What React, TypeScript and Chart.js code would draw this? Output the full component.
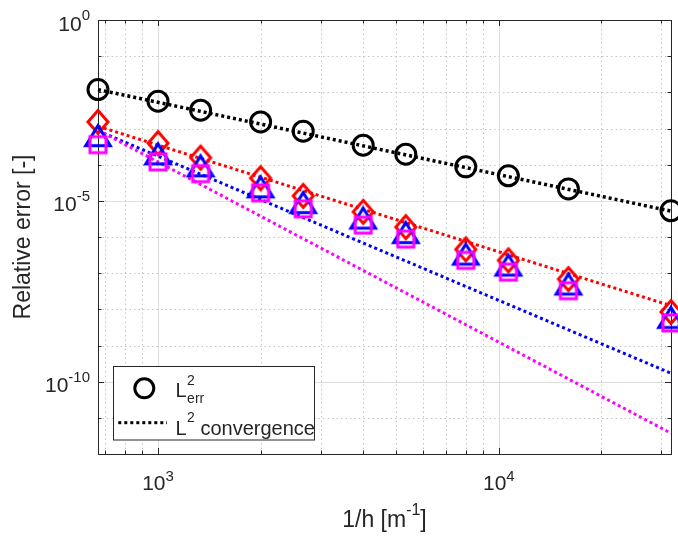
import React, { useEffect, useRef } from 'react';
import { Chart, registerables } from 'chart.js';

Chart.register(...registerables);

// ---------------- data ----------------
const invH = [666.67, 1000, 1333.3, 2000, 2666.7, 4000, 5333.3, 8000, 10666.7, 16000, 32000];
const errL2 = [1.19e-2, 5.68e-3, 3.21e-3, 1.52e-3, 8.41e-4, 3.46e-4, 1.95e-4, 8.69e-5, 4.91e-5, 2.14e-5, 5.3e-6];
const errDiamond = [1.52e-3, 3.93e-4, 1.56e-4, 4.24e-5, 1.37e-5, 4.97e-6, 1.88e-6, 4.54e-7, 2.26e-7, 6.87e-8, 8.42e-9];
const errTriangle = [6.65e-4, 2.08e-4, 9.68e-5, 2.55e-5, 9.38e-6, 3.48e-6, 1.39e-6, 3.52e-7, 1.75e-7, 5.23e-8, 6.25e-9];
const errSquare = [3.57e-4, 1.19e-4, 5.64e-5, 1.66e-5, 6.01e-6, 2.13e-6, 8.75e-7, 2.26e-7, 1.07e-7, 3.27e-8, 4.19e-9];

const convX = [666.67, 32000];
const convL2 = [1.19e-2, 5.2e-6];
const convDiamond = [1.15e-3, 1.26e-8];
const convTriangle = [8.64e-4, 1.71e-10];
const convSquare = [8.98e-4, 3.76e-12];

const xMin = 666.67;
const xMax = 32000;
const yMin = 1e-12;
const yMax = 1;

const xMajorTicks = [1e3, 1e4];
const xTickExponents = ['3', '4'];
const xMinorTicks = [700, 800, 900, 2000, 3000, 4000, 5000, 6000, 7000, 8000, 9000, 20000, 30000];
const yMajorTicks = [1, 1e-5, 1e-10];
const yTickExponents = ['0', '-5', '-10'];
const yMinorTicks = [1e-1, 1e-2, 1e-3, 1e-4, 1e-6, 1e-7, 1e-8, 1e-9, 1e-11];

const xTitle = ['1/h [m', '-1', ']'];
const yTitle = 'Relative error [-]';
const legendErr = ['L', '2', 'err'];
const legendConv = ['L', '2', ' convergence'];

// ---------------- styling helpers ----------------
const FONT = '"Liberation Sans", Arial, Helvetica, sans-serif';
const TEXT = '#262626';

function pts(xs: number[], ys: number[]) {
  return xs.map((x, i) => ({ x, y: ys[i] }));
}

function makeMarker(w: number, h: number, color: string, path: (g: CanvasRenderingContext2D, cx: number, cy: number) => void) {
  const c = document.createElement('canvas');
  c.width = w;
  c.height = h;
  const g = c.getContext('2d')!;
  g.strokeStyle = color;
  g.lineWidth = 3;
  g.lineJoin = 'miter';
  g.miterLimit = 10;
  g.beginPath();
  path(g, w / 2, h / 2);
  g.closePath();
  g.stroke();
  return c;
}

function drawSup(
  ctx: CanvasRenderingContext2D,
  base: string,
  sup: string,
  x: number,
  y: number,
  align: 'left' | 'right' | 'center',
  baseSize: number,
  supSize: number,
  rise: number
) {
  ctx.font = `${baseSize}px ${FONT}`;
  const wb = ctx.measureText(base).width;
  ctx.font = `${supSize}px ${FONT}`;
  const ws = ctx.measureText(sup).width;
  const total = wb + ws;
  const x0 = align === 'right' ? x - total : align === 'center' ? x - total / 2 : x;
  ctx.textAlign = 'left';
  ctx.textBaseline = 'alphabetic';
  ctx.font = `${baseSize}px ${FONT}`;
  ctx.fillText(base, x0, y);
  ctx.font = `${supSize}px ${FONT}`;
  ctx.fillText(sup, x0 + wb, y - rise);
  return x0 + total;
}

const axesPlugin = {
  id: 'matlabAxes',
  beforeDatasetsDraw(chart: any) {
    const { ctx, chartArea: a, scales } = chart;
    const xs = scales.x;
    const ys = scales.y;
    ctx.save();
    ctx.lineWidth = 1;
    // minor grid (dotted)
    ctx.strokeStyle = '#c4c4c4';
    ctx.setLineDash([1.5, 3]);
    ctx.beginPath();
    for (const v of xMinorTicks) {
      const p = Math.round(xs.getPixelForValue(v)) + 0.5;
      ctx.moveTo(p, a.top);
      ctx.lineTo(p, a.bottom);
    }
    for (const v of yMinorTicks) {
      const p = Math.round(ys.getPixelForValue(v)) + 0.5;
      ctx.moveTo(a.left, p);
      ctx.lineTo(a.right, p);
    }
    ctx.stroke();
    // major grid (solid)
    ctx.setLineDash([]);
    ctx.strokeStyle = '#dedede';
    ctx.beginPath();
    for (const v of xMajorTicks) {
      const p = Math.round(xs.getPixelForValue(v)) + 0.5;
      ctx.moveTo(p, a.top);
      ctx.lineTo(p, a.bottom);
    }
    for (const v of yMajorTicks) {
      const p = Math.round(ys.getPixelForValue(v)) + 0.5;
      ctx.moveTo(a.left, p);
      ctx.lineTo(a.right, p);
    }
    ctx.stroke();
    // ticks (inward, both sides)
    ctx.strokeStyle = TEXT;
    ctx.beginPath();
    const tickX = (v: number, len: number) => {
      const p = Math.round(xs.getPixelForValue(v)) + 0.5;
      ctx.moveTo(p, a.bottom);
      ctx.lineTo(p, a.bottom - len);
      ctx.moveTo(p, a.top);
      ctx.lineTo(p, a.top + len);
    };
    const tickY = (v: number, len: number) => {
      const p = Math.round(ys.getPixelForValue(v)) + 0.5;
      ctx.moveTo(a.left, p);
      ctx.lineTo(a.left + len, p);
      ctx.moveTo(a.right, p);
      ctx.lineTo(a.right - len, p);
    };
    xMinorTicks.forEach((v) => tickX(v, 3.5));
    xMajorTicks.forEach((v) => tickX(v, 6));
    yMinorTicks.forEach((v) => tickY(v, 3.5));
    yMajorTicks.forEach((v) => tickY(v, 6));
    ctx.stroke();
    // box
    ctx.strokeRect(a.left + 0.5, a.top + 0.5, a.right - a.left, a.bottom - a.top);
    ctx.restore();
  },
  afterDraw(chart: any) {
    const { ctx, chartArea: a, scales } = chart;
    const xs = scales.x;
    const ys = scales.y;
    ctx.save();
    ctx.fillStyle = TEXT;
    // x tick labels
    xMajorTicks.forEach((v, i) => {
      drawSup(ctx, '10', xTickExponents[i], xs.getPixelForValue(v), a.bottom + 36, 'center', 21, 15, 9);
    });
    // y tick labels
    yMajorTicks.forEach((v, i) => {
      drawSup(ctx, '10', yTickExponents[i], a.left - 8, ys.getPixelForValue(v) + 10.5, 'right', 21, 15, 10.5);
    });
    // x title
    {
      const cx = (a.left + a.right) / 2;
      ctx.font = `23px ${FONT}`;
      const w1 = ctx.measureText(xTitle[0]).width;
      const w3 = ctx.measureText(xTitle[2]).width;
      ctx.font = `16px ${FONT}`;
      const w2 = ctx.measureText(xTitle[1]).width;
      const x0 = cx - (w1 + w2 + w3) / 2;
      const by = 526.5;
      ctx.textAlign = 'left';
      ctx.font = `23px ${FONT}`;
      ctx.fillText(xTitle[0], x0, by);
      ctx.font = `16px ${FONT}`;
      ctx.fillText(xTitle[1], x0 + w1, by - 11.5);
      ctx.font = `23px ${FONT}`;
      ctx.fillText(xTitle[2], x0 + w1 + w2, by);
    }
    // y title
    ctx.save();
    ctx.translate(29.5, (a.top + a.bottom) / 2);
    ctx.rotate(-Math.PI / 2);
    ctx.font = `23px ${FONT}`;
    ctx.textAlign = 'center';
    ctx.textBaseline = 'alphabetic';
    ctx.fillText(yTitle, 0, 0);
    ctx.restore();

    // legend
    const lx = 113.5, ly = 366.5, lw = 201, lh = 73.5;
    ctx.fillStyle = '#ffffff';
    ctx.fillRect(lx, ly, lw, lh);
    ctx.strokeStyle = TEXT;
    ctx.lineWidth = 1;
    ctx.strokeRect(lx, ly, lw, lh);
    // entry 1 : circle
    ctx.strokeStyle = '#000';
    ctx.lineWidth = 3;
    ctx.beginPath();
    ctx.arc(144.3, 388.3, 9.5, 0, Math.PI * 2);
    ctx.stroke();
    ctx.fillStyle = TEXT;
    ctx.textAlign = 'left';
    ctx.textBaseline = 'alphabetic';
    ctx.font = `20px ${FONT}`;
    const tx = 175.5;
    ctx.fillText(legendErr[0], tx, 397);
    const wL = ctx.measureText(legendErr[0]).width;
    ctx.font = `14px ${FONT}`;
    ctx.fillText(legendErr[1], tx + wL + 0.5, 385);
    ctx.fillText(legendErr[2], tx + wL + 0.5, 402.5);
    // entry 2 : dotted line
    ctx.strokeStyle = '#000';
    ctx.lineWidth = 3;
    ctx.setLineDash([3, 3]);
    ctx.beginPath();
    ctx.moveTo(118.3, 422.7);
    ctx.lineTo(167, 422.7);
    ctx.stroke();
    ctx.setLineDash([]);
    ctx.font = `20px ${FONT}`;
    ctx.fillText(legendConv[0], tx, 435);
    ctx.font = `14px ${FONT}`;
    ctx.fillText(legendConv[1], tx + wL + 0.5, 422);
    const w2 = ctx.measureText(legendConv[1]).width;
    ctx.font = `20px ${FONT}`;
    ctx.fillText(legendConv[2], tx + wL + 0.5 + w2, 435);
    ctx.restore();
  },
};

export default function App() {
  const canvasRef = useRef<HTMLCanvasElement | null>(null);

  useEffect(() => {
    document.body.style.margin = '0';
    const canvas = canvasRef.current;
    if (!canvas) return;

    const diamond = makeMarker(30, 32, '#ff0000', (g, cx, cy) => {
      g.moveTo(cx, cy - 11.5);
      g.lineTo(cx + 10, cy);
      g.lineTo(cx, cy + 11.5);
      g.lineTo(cx - 10, cy);
    });
    const triangle = makeMarker(36, 32, '#0000ff', (g, cx, cy) => {
      g.moveTo(cx, cy - 9.3);
      g.lineTo(cx + 12.3, cy + 10.7);
      g.lineTo(cx - 12.3, cy + 10.7);
    });
    const square = makeMarker(24, 24, '#ff00ff', (g, cx, cy) => {
      g.rect(cx - 8, cy - 8, 16, 16);
    });

    const markerDs = (data: any, style: any, color: string, order: number) => ({
      data,
      pointStyle: style,
      pointRadius: 10,
      pointBorderWidth: 3,
      pointBorderColor: color,
      pointBackgroundColor: 'rgba(0,0,0,0)',
      showLine: false,
      clip: false,
      order,
    });
    const lineDs = (data: any, color: string, width: number, order: number) => ({
      data,
      showLine: true,
      borderColor: color,
      borderWidth: width,
      borderDash: [3, 3],
      borderCapStyle: 'butt',
      pointRadius: 0,
      clip: false,
      order,
    });

    const chart = new Chart(canvas, {
      type: 'scatter',
      data: {
        datasets: [
          markerDs(pts(invH, errSquare), square, '#ff00ff', 1),
          markerDs(pts(invH, errTriangle), triangle, '#0000ff', 2),
          markerDs(pts(invH, errDiamond), diamond, '#ff0000', 3),
          markerDs(pts(invH, errL2), 'circle', '#000000', 4),
          lineDs(pts(convX, convSquare), '#ff00ff', 3, 5),
          lineDs(pts(convX, convTriangle), '#0000ff', 3, 6),
          lineDs(pts(convX, convDiamond), '#ff0000', 3, 7),
          lineDs(pts(convX, convL2), '#000000', 3.5, 8),
        ] as any,
      },
      options: {
        animation: false,
        responsive: false,
        maintainAspectRatio: false,
        events: [],
        layout: { autoPadding: false, padding: { left: 98, top: 20, right: 7, bottom: 82 } },
        plugins: { legend: { display: false }, tooltip: { enabled: false } },
        scales: {
          x: { type: 'logarithmic', min: xMin, max: xMax, display: false },
          y: { type: 'logarithmic', min: yMin, max: yMax, display: false },
        },
      } as any,
      plugins: [axesPlugin],
    });
    return () => chart.destroy();
  }, []);

  return (
    <div style={{ width: 678, height: 536, position: 'relative' }}>
      <canvas ref={canvasRef} width={678} height={536} style={{ width: 678, height: 536, display: 'block' }} />
    </div>
  );
}
